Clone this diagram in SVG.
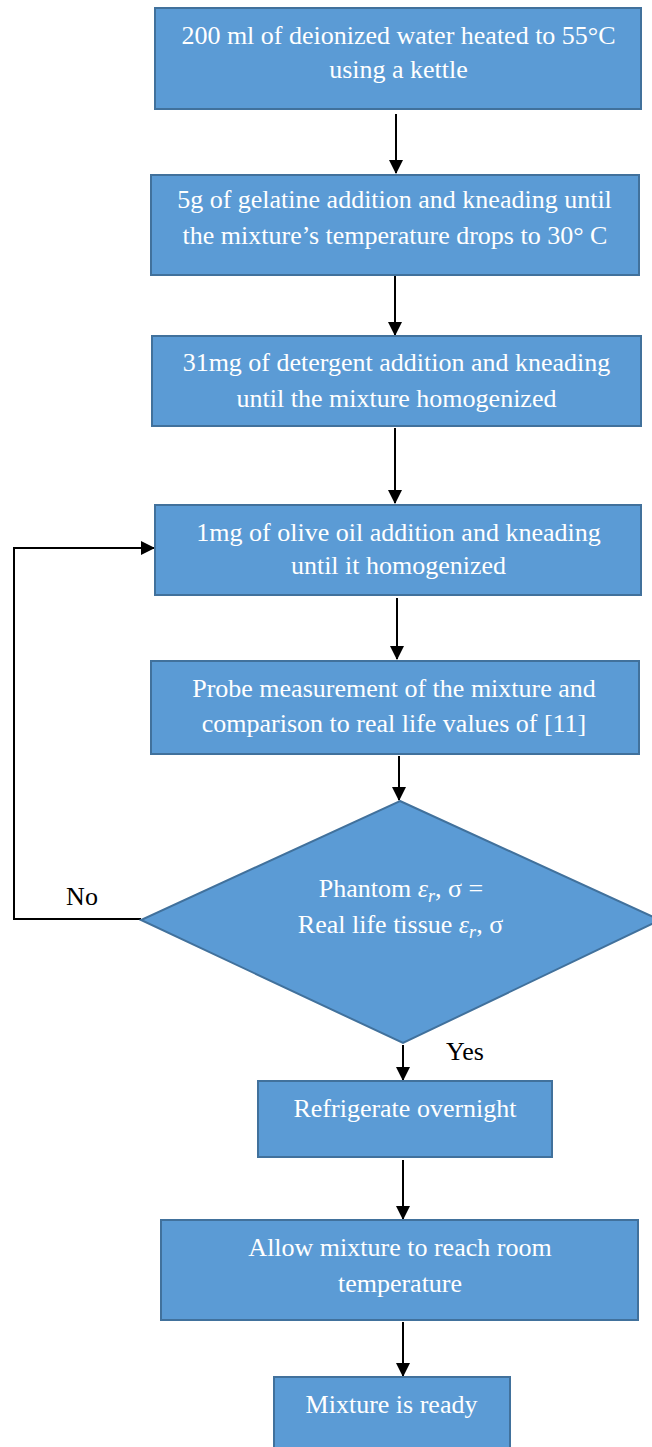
<svg xmlns="http://www.w3.org/2000/svg" width="652" height="1447" viewBox="0 0 652 1447">
<style>
.box{fill:#5B9BD5;stroke:#41719C;stroke-width:2}
.t{font-family:'Liberation Serif','Times New Roman',serif;font-size:26px;fill:#ffffff;text-anchor:middle}
.lbl{font-family:'Liberation Serif','Times New Roman',serif;font-size:26px;fill:#000000;text-anchor:middle}
.c{fill:none;stroke:#000;stroke-width:2}
.m{font-style:italic}
.s{font-style:italic;font-size:18px}
</style>
<defs>
<marker id="ah" markerWidth="14" markerHeight="14" refX="13" refY="7" orient="auto" markerUnits="userSpaceOnUse" viewBox="0 0 14 14">
<path d="M0,0 L14,7 L0,14 z" fill="#000"/>
</marker>
</defs>
<g id="connectors">
<line class="c" x1="396" y1="114" x2="396" y2="173" marker-end="url(#ah)"/>
<line class="c" x1="395" y1="276" x2="395" y2="335" marker-end="url(#ah)"/>
<line class="c" x1="395" y1="428" x2="395" y2="503" marker-end="url(#ah)"/>
<line class="c" x1="397" y1="598" x2="397" y2="659" marker-end="url(#ah)"/>
<line class="c" x1="399" y1="756" x2="399" y2="800" marker-end="url(#ah)"/>
<line class="c" x1="403" y1="1045" x2="403" y2="1080" marker-end="url(#ah)"/>
<line class="c" x1="403" y1="1160" x2="403" y2="1219" marker-end="url(#ah)"/>
<line class="c" x1="403" y1="1322" x2="403" y2="1376" marker-end="url(#ah)"/>
<polyline class="c" points="141,919 14,919 14,548 154,548" marker-end="url(#ah)"/>
<text class="lbl" x="82" y="905">No</text>
<text class="lbl" x="465" y="1060">Yes</text>
</g>
<g id="n1">
<rect class="box" x="155" y="8" width="486" height="101"/>
<text class="t" x="398.5" y="44">200 ml of deionized water heated to 55°C</text>
<text class="t" x="398.5" y="78">using a kettle</text>
</g>
<g id="n2">
<rect class="box" x="151" y="175" width="488" height="100"/>
<text class="t" x="394.5" y="208">5g of gelatine addition and kneading until</text>
<text class="t" x="395" y="244">the mixture’s temperature drops to 30° C</text>
</g>
<g id="n3">
<rect class="box" x="152" y="336" width="489" height="90"/>
<text class="t" x="396.5" y="371">31mg of detergent addition and kneading</text>
<text class="t" x="396.5" y="407">until the mixture homogenized</text>
</g>
<g id="n4">
<rect class="box" x="155" y="505" width="486" height="90"/>
<text class="t" x="398.5" y="541">1mg of olive oil addition and kneading</text>
<text class="t" x="398.5" y="574">until it homogenized</text>
</g>
<g id="n5">
<rect class="box" x="151" y="661" width="488" height="93"/>
<text class="t" x="394" y="697">Probe measurement of the mixture and</text>
<text class="t" x="394" y="732">comparison to real life values of [11]</text>
</g>
<g id="n6">
<polygon class="box" points="400,801 660,920 403,1043 141,920"/>
<text class="t" x="401" y="897">Phantom <tspan class="m">ε</tspan><tspan class="s" dy="5">r</tspan><tspan dy="-5">, σ =</tspan></text>
<text class="t" x="400.5" y="933">Real life tissue <tspan class="m">ε</tspan><tspan class="s" dy="5">r</tspan><tspan dy="-5">, σ</tspan></text>
</g>
<g id="n7">
<rect class="box" x="258" y="1081" width="294" height="76"/>
<text class="t" x="405" y="1117">Refrigerate overnight</text>
</g>
<g id="n8">
<rect class="box" x="161" y="1220" width="477" height="100"/>
<text class="t" x="400" y="1256">Allow mixture to reach room</text>
<text class="t" x="400" y="1292">temperature</text>
</g>
<g id="n9">
<rect class="box" x="274" y="1377" width="236" height="80"/>
<text class="t" x="391.5" y="1413">Mixture is ready</text>
</g>
</svg>
